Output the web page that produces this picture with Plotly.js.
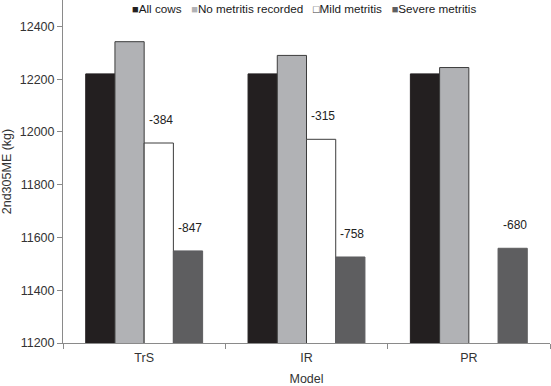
<!DOCTYPE html>
<html>
<head>
<meta charset="utf-8">
<script src="https://cdn.plot.ly/plotly-3.0.1.min.js"></script>
<style>
  html, body { margin: 0; padding: 0; background: #fff; }
  #chart { width: 551px; height: 386px; }
</style>
</head>
<body>
<div id="chart"></div>
<script>
// values (kg)
let models = ['TrS', 'IR', 'PR'];
let allCows = [12220, 12220, 12220];
let noMetritis = [12342, 12290, 12244];
let mildMetritis = [11958, 11972, null];
let severeMetritis = [11549, 11526, 11559];

// difference labels printed above the metritis bars
let mildLabels = ['-384', '-315', ''];
let severeLabels = ['-847', '-758', '-680'];

let font = 'Liberation Sans, Arial, sans-serif';
let outline = {color: '#3c3c3c', width: 1};
let bargap = 0.28;

let data = [
  {x: models, y: allCows, name: 'All cows', type: 'bar',
   marker: {color: '#231f20', line: {color: '#231f20', width: 1}}},
  {x: models, y: noMetritis, name: 'No metritis recorded', type: 'bar',
   marker: {color: '#b1b2b5', line: outline}},
  {x: models, y: mildMetritis, name: 'Mild metritis', type: 'bar',
   marker: {color: '#ffffff', line: outline}},
  {x: models, y: severeMetritis, name: 'Severe metritis', type: 'bar',
   marker: {color: '#5e5e60', line: {color: '#5e5e60', width: 1}}}
];

// centre of bar k (0..3) inside a category, in category units
function barOffset(k) {
  let w = (1 - bargap) / 4;
  return -(1 - bargap) / 2 + (k + 0.5) * w;
}

let annotations = [];
for (let i = 0; i < models.length; i++) {
  if (mildMetritis[i] !== null && mildLabels[i]) {
    annotations.push({x: i + barOffset(2), y: mildMetritis[i], text: mildLabels[i]});
  }
  annotations.push({x: i + barOffset(3), y: severeMetritis[i], text: severeLabels[i]});
}
annotations = annotations.map(a => Object.assign(a, {
  xref: 'x', yref: 'y', showarrow: false, yanchor: 'middle',
  yshift: 23, xshift: 2, font: {family: font, size: 12, color: '#222'}
}));

// compact one-line key, as in the original figure
let keyText = data.map(t => {
  let c = t.marker.color === '#ffffff' ? '#3c3c3c' : t.marker.color;
  let glyph = t.marker.color === '#ffffff' ? '□' : '■';
  return '<span style="color:' + c + ';font-size:11px">' + glyph + '</span>' + t.name;
}).join('\u00a0\u00a0\u00a0');
annotations.push({
  xref: 'paper', yref: 'paper', x: 0.495, y: 1, xanchor: 'center', yanchor: 'middle',
  yshift: -8, showarrow: false, text: keyText,
  font: {family: font, size: 11.7, color: '#1a1a1a'}
});

let layout = {
  width: 551,
  height: 386,
  margin: {l: 63, r: 1, t: 0, b: 43},
  paper_bgcolor: '#fff',
  plot_bgcolor: '#fff',
  font: {family: font, size: 12, color: '#333'},
  barmode: 'group',
  bargap: bargap,
  bargroupgap: 0,
  showlegend: false,
  xaxis: {
    type: 'category',
    showline: true, linecolor: '#8a8a8a', linewidth: 1,
    ticks: 'outside', tickson: 'boundaries', ticklen: 5, tickcolor: '#8a8a8a',
    ticklabelstandoff: 3,
    showgrid: false, zeroline: false,
    tickfont: {family: font, size: 12.5, color: '#333'},
    title: {text: 'Model', standoff: 24, font: {family: font, size: 12.5, color: '#333'}}
  },
  yaxis: {
    range: [11200, 12500], dtick: 200, tick0: 11200, tickformat: 'd',
    showline: true, linecolor: '#8a8a8a', linewidth: 1,
    ticks: 'outside', ticklen: 5, tickcolor: '#8a8a8a',
    showgrid: false, zeroline: false,
    tickfont: {family: font, size: 12.5, color: '#333'},
    title: {text: '2nd305ME (kg)', standoff: 8, font: {family: font, size: 12.5, color: '#333'}}
  },
  annotations: annotations
};

Plotly.newPlot('chart', data, layout, {displayModeBar: false, responsive: false});
</script>
</body>
</html>
